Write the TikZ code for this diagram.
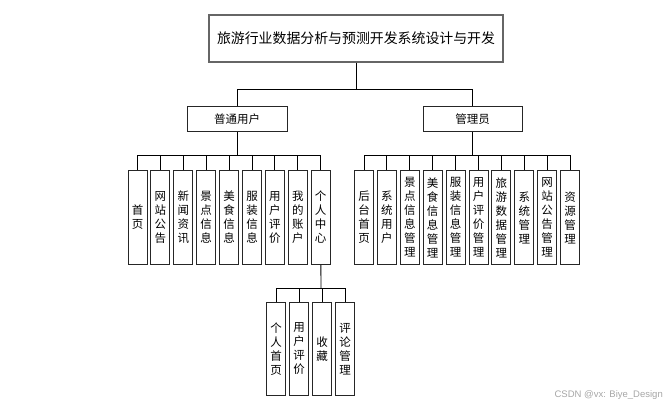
\documentclass[tikz,border=0pt]{standalone}
\usepackage{fontspec}
\setmainfont{Noto Sans CJK SC}
\newfontfamily\wmfont{Liberation Sans}
\begin{document}
\begin{tikzpicture}[x=1pt,y=-1pt,
  box/.style={draw=black!85, line width=1pt, fill=white, inner sep=0pt, align=center},
  vbox/.style={box, minimum width=19pt, minimum height=94pt, anchor=north, font=\fontsize{11.5}{14}\selectfont},
  hbox/.style={box, minimum width=100pt, minimum height=25pt, font=\fontsize{11.5}{14}\selectfont},
  link/.style={draw=black, line width=0.9pt}]
\useasboundingbox (0,0) rectangle (670,409);

\node[box, draw=black!60, line width=1.2pt, minimum width=294pt, minimum height=47pt, font=\fontsize{13.9}{16}\selectfont] (title) at (356,38.5) {旅游行业数据分析与预测开发系统设计与开发};
\node[hbox] (user) at (237,119.5) {普通用户};
\node[hbox, minimum width=99pt] (admin) at (472.5,119.5) {管理员};

\coordinate (j0) at (356,89);
\coordinate (ju) at (237,155);
\coordinate (ja) at (472.5,155);
\coordinate (jp) at (321,288);

\draw[link] (title) -- (j0);
\draw[link] (j0) -| (user);
\draw[link] (j0) -| (admin);
\draw[link] (user) -- (ju);
\draw[link] (admin) -- (ja);

\foreach \t [count=\i from 0] in {{首\\页},{网\\站\\公\\告},{新\\闻\\资\\讯},{景\\点\\信\\息},{美\\食\\信\\息},{服\\装\\信\\息},{用\\户\\评\\价},{我\\的\\账\\户},{个\\人\\中\\心}}{
  \node[vbox] (L\i) at ({137.5+22.9*\i},170) {\t};
  \draw[link] (ju) -| (L\i);
}

\foreach \t [count=\i from 0] in {{后\\台\\首\\页},{系\\统\\用\\户},{景\\点\\信\\息\\管\\理},{美\\食\\信\\息\\管\\理},{服\\装\\信\\息\\管\\理},{用\\户\\评\\价\\管\\理},{旅\\游\\数\\据\\管\\理},{系\\统\\管\\理},{网\\站\\公\\告\\管\\理},{资\\源\\管\\理}}{
  \node[vbox] (R\i) at ({364+22.9*\i},170) {\t};
  \draw[link] (ja) -| (R\i);
}

\draw[link] (L8) -- (jp);
\foreach \t [count=\i from 0] in {{个\\人\\首\\页},{用\\户\\评\\价},{收\\藏},{评\\论\\管\\理}}{
  \node[vbox, minimum height=93pt] (S\i) at ({276+23*\i},302) {\t};
  \draw[link] (jp) -| (S\i);
}

\node[font=\wmfont\fontsize{9.5}{11}\selectfont, text=black!35, anchor=east, inner sep=0pt] (wm) at (663,395) {CSDN @vx: Biye\_Design};
\end{tikzpicture}
\end{document}
